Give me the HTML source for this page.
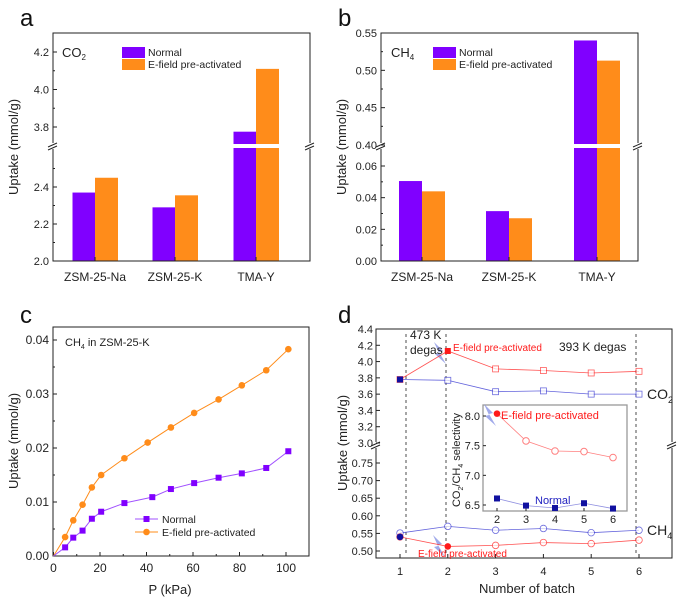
<!DOCTYPE html>
<html><head><meta charset="utf-8"><style>
html,body{margin:0;padding:0;background:#fff;}
svg{display:block;font-family:"Liberation Sans",Arial,sans-serif;}
</style></head><body>
<svg id="fig" width="683" height="601" viewBox="0 0 683 601" xmlns="http://www.w3.org/2000/svg"></svg>
<script>
// ---------- data ----------
const barCats = ["ZSM-25-Na","ZSM-25-K","TMA-Y"];
const co2Normal = [2.37,2.29,3.775];
const co2Efield = [2.45,2.355,4.11];
const ch4Normal = [0.0505,0.0315,0.540];
const ch4Efield = [0.044,0.027,0.513];
const isoP = [0,5,8.5,12.5,16.5,20.5,30.5,42.5,50.5,60.5,71,81,91.5,101];
const isoNormal = [0,0.0016,0.0034,0.0047,0.0069,0.0082,0.0098,0.0109,0.0124,0.0135,0.0145,0.0153,0.0163,0.0194];
const isoPE = [0,5,8.5,12.5,16.5,20.5,30.5,40.5,50.5,60.5,71,81,91.5,101];
const isoEfield = [0,0.0035,0.0066,0.0095,0.0127,0.0150,0.0181,0.0210,0.0238,0.0265,0.0290,0.0316,0.0344,0.0383];
const batches = [1,2,3,4,5,6];
const co2BatchE = [3.78,4.13,3.91,3.89,3.86,3.88];
const co2BatchN = [3.78,3.77,3.63,3.64,3.60,3.60];
const ch4BatchN = [0.551,0.570,0.559,0.564,0.552,0.559];
const ch4BatchE = [0.540,0.513,0.516,0.524,0.521,0.531];
const selBatch = [2,3,4,5,6];
const selE = [8.04,7.58,7.41,7.40,7.30];
const selN = [6.61,6.49,6.45,6.53,6.44];
const PURPLE="#8000ff", ORANGE="#ff8c1a", BLUE="#1010a0", RED="#ff1a1a";

const NS="http://www.w3.org/2000/svg";
const svg=document.getElementById('fig');
function mk(tag,attrs,name,parent){
  const el=document.createElementNS(NS,tag);
  for(const k in attrs) el.setAttribute(k,attrs[k]);
  
  
  (parent||svg).appendChild(el);
  return el;
}
function txt(x,y,s,name,o){
  o=o||{};
  const t=mk('text',{x:x,y:y,'font-size':o.size||11,'text-anchor':o.anchor||'start',fill:o.fill||'#222'},name);
  if(o.rot) t.setAttribute('transform','rotate(-90 '+x+' '+y+')');
  if(o.html) t.innerHTML=s; else t.textContent=s;
  return t;
}
function line(x1,y1,x2,y2,name,o){o=o||{};return mk('line',{x1:x1,y1:y1,x2:x2,y2:y2,stroke:o.stroke||'#222','stroke-width':o.w||1,'stroke-dasharray':o.dash||'none'},name);}
function breakMark(x,y,name){
  mk('rect',{x:x-4,y:y-3,width:8,height:6,fill:'#fff'},name+'-gap');
  line(x-5,y+1,x+4,y-3,name+'-1');
  line(x-5,y+4,x+4,y,name+'-2');
}
function mkSeg(v0,y0,v1,y1){return v=>y0+(v-v0)*(y1-y0)/(v1-v0);}

// ================= Panel a =================
(function(){
  const L=53,R=310,T=33,B=261,BRK=146;
  const yUp=mkSeg(3.8,127,4.2,52), yLo=mkSeg(2.0,261,2.4,187);
  const y=v=>v>2.65?yUp(v):yLo(v);
  const cx=[95,175,256];
  txt(20,26,'a','panel-a-letter',{size:24,fill:'#111'});
  barCats.forEach((c,i)=>{
    const yn=y(co2Normal[i]), ye=y(co2Efield[i]);
    mk('rect',{x:cx[i]-22.5,y:yn,width:22.5,height:B-yn,fill:PURPLE},'bar-a-normal-'+i);
    mk('rect',{x:cx[i],y:ye,width:23,height:B-ye,fill:ORANGE},'bar-a-efield-'+i);
    txt(cx[i],281,c,'x-tick-label-a',{size:12,anchor:'middle'});
  });
  mk('rect',{x:L+1,y:BRK-2,width:R-L-2,height:4,fill:'#fff'},'break-gap-a');
  mk('path',{d:`M${L} ${BRK-2}V${T}H${R}V${BRK-2}M${L} ${BRK+2}V${B}H${R}V${BRK+2}`,fill:'none',stroke:'#222'},'axis-box-a');
  breakMark(L,BRK,'break-a-left');breakMark(R,BRK,'break-a-right');
  [[2.0,'2.0'],[2.2,'2.2'],[2.4,'2.4'],[3.8,'3.8'],[4.0,'4.0'],[4.2,'4.2']].forEach(t=>{
    const yy=y(t[0]);line(L,yy,L+4,yy,'y-tick-a');txt(L-4,yy+4,t[1],'y-tick-label-a',{anchor:'end'});
  });
  [2.1,2.3,2.5,3.9,4.1].forEach(v=>{const yy=y(v);line(L,yy,L+2,yy,'y-minor-tick-a');});
  cx.forEach(c=>line(c,B,c,B-4,'x-tick-a'));
  txt(18,147,'Uptake (mmol/g)','y-axis-title-a',{size:13,anchor:'middle',rot:true});
  txt(62,57,'CO<tspan font-size="8" dy="3">2</tspan>','gas-label-a',{size:13,html:true});
  mk('rect',{x:122,y:47,width:23,height:11,fill:PURPLE},'legend-swatch-a-normal');
  mk('rect',{x:122,y:59,width:23,height:11,fill:ORANGE},'legend-swatch-a-efield');
  txt(148,56,'Normal','legend-label-a-normal',{size:10.5});
  txt(148,68,'E-field pre-activated','legend-label-a-efield',{size:10.5});
})();

// ================= Panel b =================
(function(){
  const L=381,R=638,T=33,B=261,BRK=146;
  const yUp=mkSeg(0.40,145,0.55,33), yLo=mkSeg(0,261,0.06,166);
  const y=v=>v>0.2?yUp(v):yLo(v);
  const cx=[422,509,597];
  txt(338,26,'b','panel-b-letter',{size:24,fill:'#111'});
  barCats.forEach((c,i)=>{
    const yn=y(ch4Normal[i]), ye=y(ch4Efield[i]);
    mk('rect',{x:cx[i]-23,y:yn,width:23,height:B-yn,fill:PURPLE},'bar-b-normal-'+i);
    mk('rect',{x:cx[i],y:ye,width:23,height:B-ye,fill:ORANGE},'bar-b-efield-'+i);
    txt(cx[i],281,c,'x-tick-label-b',{size:12,anchor:'middle'});
  });
  mk('rect',{x:L+1,y:BRK-2,width:R-L-2,height:4,fill:'#fff'},'break-gap-b');
  mk('path',{d:`M${L} ${BRK-2}V${T}H${R}V${BRK-2}M${L} ${BRK+2}V${B}H${R}V${BRK+2}`,fill:'none',stroke:'#222'},'axis-box-b');
  breakMark(L,BRK,'break-b-left');breakMark(R,BRK,'break-b-right');
  [[0,'0.00'],[0.02,'0.02'],[0.04,'0.04'],[0.06,'0.06'],[0.40,'0.40'],[0.45,'0.45'],[0.50,'0.50'],[0.55,'0.55']].forEach(t=>{
    const yy=y(t[0]);line(L,yy,L+4,yy,'y-tick-b');txt(L-4,yy+4,t[1],'y-tick-label-b',{anchor:'end'});
  });
  [0.01,0.03,0.05,0.425,0.475,0.525].forEach(v=>{const yy=y(v);line(L,yy,L+2,yy,'y-minor-tick-b');});
  cx.forEach(c=>line(c,B,c,B-4,'x-tick-b'));
  txt(346,147,'Uptake (mmol/g)','y-axis-title-b',{size:13,anchor:'middle',rot:true});
  txt(391,57,'CH<tspan font-size="8" dy="3">4</tspan>','gas-label-b',{size:13,html:true});
  mk('rect',{x:433,y:47,width:23,height:11,fill:PURPLE},'legend-swatch-b-normal');
  mk('rect',{x:433,y:59,width:23,height:11,fill:ORANGE},'legend-swatch-b-efield');
  txt(459,56,'Normal','legend-label-b-normal',{size:10.5});
  txt(459,68,'E-field pre-activated','legend-label-b-efield',{size:10.5});
})();

// ================= Panel c =================
(function(){
  const L=53,R=309,T=327,B=556;
  const x=mkSeg(0,53.5,100,286), y=mkSeg(0,556,0.04,340);
  txt(20,323,'c','panel-c-letter',{size:24,fill:'#111'});
  mk('rect',{x:L,y:T,width:R-L,height:B-T,fill:'none',stroke:'#222'},'axis-box-c');
  [0,20,40,60,80,100].forEach(v=>{line(x(v),B,x(v),B-4,'x-tick-c');txt(x(v),572,String(v),'x-tick-label-c',{size:12,anchor:'middle'});});
  [10,30,50,70,90].forEach(v=>line(x(v),B,x(v),B-2,'x-minor-tick-c'));
  [[0,'0.00'],[0.01,'0.01'],[0.02,'0.02'],[0.03,'0.03'],[0.04,'0.04']].forEach(t=>{
    line(L,y(t[0]),L+4,y(t[0]),'y-tick-c');txt(L-4,y(t[0])+4,t[1],'y-tick-label-c',{size:12,anchor:'end'});
  });
  [0.005,0.015,0.025,0.035].forEach(v=>line(L,y(v),L+2,y(v),'y-minor-tick-c'));
  mk('polyline',{points:isoPE.map((p,i)=>x(p)+','+y(isoEfield[i])).join(' '),fill:'none',stroke:ORANGE,'stroke-width':1},'line-c-efield');
  mk('polyline',{points:isoP.map((p,i)=>x(p)+','+y(isoNormal[i])).join(' '),fill:'none',stroke:'#a050ff','stroke-width':1},'line-c-normal');
  isoPE.forEach((p,i)=>{if(i>0)mk('circle',{cx:x(p),cy:y(isoEfield[i]),r:3.3,fill:ORANGE},'point-c-efield');});
  isoP.forEach((p,i)=>{if(i>0)mk('rect',{x:x(p)-3,y:y(isoNormal[i])-3,width:6,height:6,fill:PURPLE},'point-c-normal');});
  txt(65,346,'CH<tspan font-size="7" dy="3">4</tspan><tspan dy="-3"> in ZSM-25-K</tspan>','series-label-c',{size:11,html:true});
  line(135,519,158,519,'legend-line-c-normal',{stroke:'#a050ff'});
  mk('rect',{x:143.5,y:516,width:6,height:6,fill:PURPLE},'legend-marker-c-normal');
  line(135,532,158,532,'legend-line-c-efield',{stroke:ORANGE});
  mk('circle',{cx:146.5,cy:532,r:3.3,fill:ORANGE},'legend-marker-c-efield');
  txt(162,523,'Normal','legend-label-c-normal',{size:10.5});
  txt(162,536,'E-field pre-activated','legend-label-c-efield',{size:10.5});
  txt(170,594,'P (kPa)','x-axis-title-c',{size:13,anchor:'middle'});
  txt(18,441,'Uptake (mmol/g)','y-axis-title-c',{size:13,anchor:'middle',rot:true});
})();

// ================= Panel d =================
(function(){
  const L=376,R=672,T=329,B=558,BRK=445;
  const x=mkSeg(1,400,6,639);
  const yUp=mkSeg(3.0,443,4.4,329), yLo=mkSeg(0.50,551,0.75,463);
  const y=v=>v>2?yUp(v):yLo(v);
  txt(338,323,'d','panel-d-letter',{size:24,fill:'#111'});
  mk('path',{d:`M${L} ${BRK-2}V${T}H${R}V${BRK-2}M${L} ${BRK+2}V${B}H${R}V${BRK+2}`,fill:'none',stroke:'#222'},'axis-box-d');
  breakMark(L,BRK,'break-d-left');breakMark(R,BRK,'break-d-right');
  [[3.0,'3.0'],[3.2,'3.2'],[3.4,'3.4'],[3.6,'3.6'],[3.8,'3.8'],[4.0,'4.0'],[4.2,'4.2'],[4.4,'4.4']].forEach(t=>{
    line(L,y(t[0]),L+4,y(t[0]),'y-tick-d');txt(L-3,y(t[0])+4,t[1],'y-tick-label-d',{size:11,anchor:'end'});
  });
  [[0.50,'0.50'],[0.55,'0.55'],[0.60,'0.60'],[0.65,'0.65'],[0.70,'0.70'],[0.75,'0.75']].forEach(t=>{
    line(L,y(t[0]),L+4,y(t[0]),'y-tick-d');txt(L-3,y(t[0])+4,t[1],'y-tick-label-d',{size:11,anchor:'end'});
  });
  batches.forEach(b=>{line(x(b),B,x(b),B-4,'x-tick-d');txt(x(b),575,String(b),'x-tick-label-d',{size:11,anchor:'middle'});});
  [406,446,636].forEach(xx=>line(xx,334,xx,555,'degas-divider',{dash:'3,3',w:0.8}));
  function bolt(bx,by,name){mk('polygon',{points:`${bx},${by} ${bx+9},${by+9} ${bx+5},${by+10} ${bx+12},${by+22} ${bx+1},${by+12} ${bx+5},${by+11}`,fill:'#8f9ae6',opacity:0.85},name);}
  bolt(434,342,'bolt-co2');bolt(433,535,'bolt-ch4');
  function series(xs,ys,color,filledIdx,shape,name){
    mk('polyline',{points:xs.map((b,i)=>x(b)+','+y(ys[i])).join(' '),fill:'none',stroke:color,'stroke-width':0.8,opacity:0.75},name+'-line');
    xs.forEach((b,i)=>{
      const f=filledIdx.includes(i);
      if(shape==='sq') mk('rect',{x:x(b)-3,y:y(ys[i])-3,width:6,height:6,fill:f?color:'#fff',stroke:color,'stroke-width':f?0:0.8,opacity:f?1:0.7},name+'-point');
      else mk('circle',{cx:x(b),cy:y(ys[i]),r:3.3,fill:f?color:'#fff',stroke:color,'stroke-width':f?0:0.8,opacity:f?1:0.7},name+'-point');
    });
  }
  series(batches,co2BatchN,'#3030d0',[0],'sq','co2-normal');
  series(batches,co2BatchE,RED,[1],'sq','co2-efield');
  mk('rect',{x:x(1)-3,y:y(co2BatchN[0])-3,width:6,height:6,fill:BLUE},'co2-start-point');
  series(batches,ch4BatchN,'#3030d0',[],'c','ch4-normal');
  series(batches,ch4BatchE,RED,[1],'c','ch4-efield');
  mk('circle',{cx:x(1),cy:y(ch4BatchE[0]),r:3.3,fill:BLUE},'ch4-start-point');
  txt(410,339,'473 K','degas-label-473',{size:12});
  txt(410,354,'degas','degas-label-473b',{size:12});
  txt(559,351,'393 K degas','degas-label-393',{size:12});
  txt(453,351,'E-field pre-activated','co2-efield-label',{size:10,fill:RED});
  txt(418,557,'E-field pre-activated','ch4-efield-label',{size:10,fill:RED});
  txt(647,399,'CO<tspan font-size="9" dy="4">2</tspan>','co2-label',{size:14,html:true});
  txt(647,535,'CH<tspan font-size="9" dy="4">4</tspan>','ch4-label',{size:14,html:true});
  txt(527,593,'Number of batch','x-axis-title-d',{size:13,anchor:'middle'});
  txt(347,443,'Uptake (mmol/g)','y-axis-title-d',{size:13,anchor:'middle',rot:true});
  // inset
  const IL=483,IR=627,IT=405,IB=511;
  const ix=mkSeg(2,497,6,613), iy=mkSeg(6.5,505,8.0,416);
  mk('rect',{x:IL,y:IT,width:IR-IL,height:IB-IT,fill:'#fff',stroke:'#999','stroke-width':1.3},'inset-box');
  bolt(484,404,'bolt-inset');
  [[6.5,'6.5'],[7.0,'7.0'],[7.5,'7.5'],[8.0,'8.0']].forEach(t=>{line(IL,iy(t[0]),IL+3,iy(t[0]),'inset-y-tick');txt(IL-3,iy(t[0])+4,t[1],'inset-y-tick-label',{size:11,anchor:'end'});});
  selBatch.forEach(b=>{line(ix(b),IB,ix(b),IB-3,'inset-x-tick');txt(ix(b),523,String(b),'inset-x-tick-label',{size:11,anchor:'middle'});});
  mk('polyline',{points:selBatch.map((b,i)=>ix(b)+','+iy(selE[i])).join(' '),fill:'none',stroke:'#ff8080','stroke-width':0.8},'inset-efield-line');
  mk('polyline',{points:selBatch.map((b,i)=>ix(b)+','+iy(selN[i])).join(' '),fill:'none',stroke:'#9090e0','stroke-width':0.8},'inset-normal-line');
  selBatch.forEach((b,i)=>{
    if(i===0) mk('circle',{cx:ix(b),cy:iy(selE[i]),r:3.3,fill:RED},'inset-efield-point');
    else mk('circle',{cx:ix(b),cy:iy(selE[i]),r:3.3,fill:'#fff',stroke:'#ff8080'},'inset-efield-point');
    mk('rect',{x:ix(b)-3,y:iy(selN[i])-3,width:6,height:6,fill:BLUE},'inset-normal-point');
  });
  txt(501,419,'E-field pre-activated','inset-efield-label',{size:11,fill:RED});
  txt(535,504,'Normal','inset-normal-label',{size:11,fill:'#2020c0'});
  txt(460,460,'CO<tspan font-size="7" dy="3">2</tspan><tspan dy="-3">/CH</tspan><tspan font-size="7" dy="3">4</tspan><tspan dy="-3"> selectivity</tspan>','inset-y-axis-title',{size:11,anchor:'middle',rot:true,html:true});
})();
</script>
</body></html>
